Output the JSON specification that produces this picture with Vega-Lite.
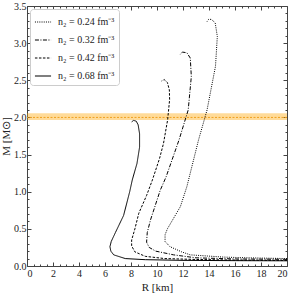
{
  "$schema": "https://vega.github.io/schema/vega-lite/v6.json",
  "width": 260,
  "height": 260,
  "autosize": {"type": "none"},
  "padding": {"left": 27, "top": 6, "right": 6, "bottom": 27},
  "background": "white",
  "config": {
    "view": {"stroke": null},
    "font": "Liberation Serif",
    "axis": {"grid": false, "labelFont": "Liberation Serif", "titleFont": "Liberation Serif", "labelColor": "#222", "titleColor": "#222", "domainColor": "#444", "tickColor": "#444", "labelFontSize": 10, "titleFontSize": 11, "titleFontWeight": "normal"}
  },
  "datasets": {
    "curves": [
      {"s": "0.24", "i": 1, "R": 20, "M": 0.10},
      {"s": "0.24", "i": 2, "R": 17, "M": 0.11},
      {"s": "0.24", "i": 3, "R": 15.1, "M": 0.12},
      {"s": "0.24", "i": 4, "R": 12.56, "M": 0.15},
      {"s": "0.24", "i": 5, "R": 11.9, "M": 0.19},
      {"s": "0.24", "i": 6, "R": 11.0, "M": 0.26},
      {"s": "0.24", "i": 7, "R": 10.62, "M": 0.33},
      {"s": "0.24", "i": 8, "R": 10.62, "M": 0.42},
      {"s": "0.24", "i": 9, "R": 10.8, "M": 0.5},
      {"s": "0.24", "i": 10, "R": 11.8, "M": 0.8},
      {"s": "0.24", "i": 11, "R": 12.3, "M": 1.07},
      {"s": "0.24", "i": 12, "R": 13.2, "M": 1.7},
      {"s": "0.24", "i": 13, "R": 13.85, "M": 2.1},
      {"s": "0.24", "i": 14, "R": 14.5, "M": 2.69},
      {"s": "0.24", "i": 15, "R": 14.64, "M": 3.09},
      {"s": "0.24", "i": 16, "R": 14.48, "M": 3.27},
      {"s": "0.24", "i": 17, "R": 14.2, "M": 3.32},
      {"s": "0.24", "i": 18, "R": 13.97, "M": 3.32},
      {"s": "0.24", "i": 19, "R": 13.85, "M": 3.29},
      {"s": "0.32", "i": 1, "R": 20, "M": 0.09},
      {"s": "0.32", "i": 2, "R": 16, "M": 0.095},
      {"s": "0.32", "i": 3, "R": 13, "M": 0.11},
      {"s": "0.32", "i": 4, "R": 11.28, "M": 0.15},
      {"s": "0.32", "i": 5, "R": 9.9, "M": 0.2},
      {"s": "0.32", "i": 6, "R": 9.4, "M": 0.25},
      {"s": "0.32", "i": 7, "R": 9.2, "M": 0.32},
      {"s": "0.32", "i": 8, "R": 9.25, "M": 0.45},
      {"s": "0.32", "i": 9, "R": 9.5, "M": 0.62},
      {"s": "0.32", "i": 10, "R": 10.25, "M": 1.02},
      {"s": "0.32", "i": 11, "R": 10.7, "M": 1.2},
      {"s": "0.32", "i": 12, "R": 11.7, "M": 1.7},
      {"s": "0.32", "i": 13, "R": 12.4, "M": 2.1},
      {"s": "0.32", "i": 14, "R": 12.64, "M": 2.55},
      {"s": "0.32", "i": 15, "R": 12.56, "M": 2.8},
      {"s": "0.32", "i": 16, "R": 12.3, "M": 2.87},
      {"s": "0.32", "i": 17, "R": 11.95, "M": 2.88},
      {"s": "0.32", "i": 18, "R": 11.8, "M": 2.85},
      {"s": "0.42", "i": 1, "R": 20, "M": 0.075},
      {"s": "0.42", "i": 2, "R": 16, "M": 0.08},
      {"s": "0.42", "i": 3, "R": 13, "M": 0.088},
      {"s": "0.42", "i": 4, "R": 10.6, "M": 0.10},
      {"s": "0.42", "i": 5, "R": 9.1, "M": 0.13},
      {"s": "0.42", "i": 6, "R": 8.3, "M": 0.19},
      {"s": "0.42", "i": 7, "R": 8.05, "M": 0.27},
      {"s": "0.42", "i": 8, "R": 8.05, "M": 0.35},
      {"s": "0.42", "i": 9, "R": 8.3, "M": 0.5},
      {"s": "0.42", "i": 10, "R": 8.6, "M": 0.71},
      {"s": "0.42", "i": 11, "R": 9.2, "M": 0.95},
      {"s": "0.42", "i": 12, "R": 9.65, "M": 1.16},
      {"s": "0.42", "i": 13, "R": 10.2, "M": 1.45},
      {"s": "0.42", "i": 14, "R": 10.5, "M": 1.65},
      {"s": "0.42", "i": 15, "R": 10.82, "M": 1.97},
      {"s": "0.42", "i": 16, "R": 10.97, "M": 2.24},
      {"s": "0.42", "i": 17, "R": 10.95, "M": 2.37},
      {"s": "0.42", "i": 18, "R": 10.8, "M": 2.47},
      {"s": "0.42", "i": 19, "R": 10.55, "M": 2.51},
      {"s": "0.42", "i": 20, "R": 10.35, "M": 2.49},
      {"s": "0.68", "i": 1, "R": 20, "M": 0.07},
      {"s": "0.68", "i": 2, "R": 16, "M": 0.072},
      {"s": "0.68", "i": 3, "R": 12, "M": 0.076},
      {"s": "0.68", "i": 4, "R": 9.1, "M": 0.085},
      {"s": "0.68", "i": 5, "R": 7.56, "M": 0.10},
      {"s": "0.68", "i": 6, "R": 6.67, "M": 0.15},
      {"s": "0.68", "i": 7, "R": 6.45, "M": 0.2},
      {"s": "0.68", "i": 8, "R": 6.38, "M": 0.26},
      {"s": "0.68", "i": 9, "R": 6.48, "M": 0.33},
      {"s": "0.68", "i": 10, "R": 6.8, "M": 0.45},
      {"s": "0.68", "i": 11, "R": 7.43, "M": 0.68},
      {"s": "0.68", "i": 12, "R": 7.9, "M": 1.0},
      {"s": "0.68", "i": 13, "R": 8.1, "M": 1.16},
      {"s": "0.68", "i": 14, "R": 8.46, "M": 1.38},
      {"s": "0.68", "i": 15, "R": 8.66, "M": 1.6},
      {"s": "0.68", "i": 16, "R": 8.66, "M": 1.78},
      {"s": "0.68", "i": 17, "R": 8.55, "M": 1.9},
      {"s": "0.68", "i": 18, "R": 8.4, "M": 1.95},
      {"s": "0.68", "i": 19, "R": 8.2, "M": 1.96},
      {"s": "0.68", "i": 20, "R": 8.05, "M": 1.94}
    ]
  },
  "layer": [
    {
      "data": {"values": [{"lo": 1.965, "hi": 2.055}]},
      "mark": {"type": "rect", "color": "#ffa500", "opacity": 0.4},
      "encoding": {
        "y": {"field": "lo", "type": "quantitative", "scale": {"domain": [0, 3.5], "nice": false, "zero": false}, "axis": null},
        "y2": {"field": "hi"}
      }
    },
    {
      "data": {"values": [{"m": 2.0}]},
      "mark": {"type": "rule", "color": "#f0a020", "strokeWidth": 1, "strokeDash": [2, 1.5]},
      "encoding": {
        "y": {"field": "m", "type": "quantitative", "axis": null}
      }
    },
    {
      "data": {"name": "curves"},
      "mark": {"type": "line", "color": "black", "strokeWidth": 1},
      "encoding": {
        "x": {"field": "R", "type": "quantitative", "scale": {"domain": [0, 20], "nice": false, "zero": false},
              "axis": {"orient": "bottom", "values": [0, 2, 4, 6, 8, 10, 12, 14, 16, 18, 20], "tickSize": -4, "labelPadding": 6, "title": "R  [km]", "titlePadding": 3, "format": "d"}},
        "y": {"field": "M", "type": "quantitative",
              "axis": {"orient": "left", "values": [0, 0.5, 1, 1.5, 2, 2.5, 3, 3.5], "tickSize": -4, "labelPadding": 5, "format": ".1f", "title": "M  [M⊙]", "titlePadding": 2}},
        "detail": {"field": "s"},
        "order": {"field": "i", "type": "quantitative"},
        "strokeDash": {"field": "s", "type": "nominal",
          "scale": {"domain": ["0.24", "0.32", "0.42", "0.68"], "range": [[1, 1.2], [4, 1.5, 1, 1.5], [2.5, 1.5], [1, 0]]},
          "legend": {"orient": "top-left", "offset": 3, "title": null, "labelExpr": "'n₂ = ' + datum.label + ' fm⁻³'",
            "symbolType": "stroke", "symbolSize": 260, "symbolStrokeColor": "black", "symbolStrokeWidth": 1.1,
            "labelFont": "Liberation Serif", "labelFontSize": 10, "labelColor": "#222", "labelOffset": 6,
            "padding": 4, "rowPadding": 4, "strokeColor": "#ccc", "fillColor": "white", "cornerRadius": 3}}
      }
    },
    {
      "data": {"name": "curves"},
      "mark": {"type": "point", "opacity": 0},
      "encoding": {
        "x": {"field": "R", "type": "quantitative", "axis": {"orient": "bottom", "values": [0.5,1,1.5,2.5,3,3.5,4.5,5,5.5,6.5,7,7.5,8.5,9,9.5,10.5,11,11.5,12.5,13,13.5,14.5,15,15.5,16.5,17,17.5,18.5,19,19.5], "tickSize": -2, "labels": false, "domain": false, "title": null}},
        "y": {"field": "M", "type": "quantitative", "axis": {"orient": "left", "values": [0.1,0.2,0.3,0.4,0.6,0.7,0.8,0.9,1.1,1.2,1.3,1.4,1.6,1.7,1.8,1.9,2.1,2.2,2.3,2.4,2.6,2.7,2.8,2.9,3.1,3.2,3.3,3.4], "tickSize": -2, "labels": false, "domain": false, "title": null}}
      }
    },
    {
      "data": {"name": "curves"},
      "mark": {"type": "point", "opacity": 0},
      "encoding": {
        "x": {"field": "R", "type": "quantitative", "axis": {"orient": "top", "values": [0, 2, 4, 6, 8, 10, 12, 14, 16, 18, 20], "tickSize": -4, "labels": false, "title": null}},
        "y": {"field": "M", "type": "quantitative", "axis": {"orient": "right", "values": [0, 0.5, 1, 1.5, 2, 2.5, 3, 3.5], "tickSize": -4, "labels": false, "title": null}}
      }
    },
    {
      "data": {"name": "curves"},
      "mark": {"type": "point", "opacity": 0},
      "encoding": {
        "x": {"field": "R", "type": "quantitative", "axis": {"orient": "top", "values": [0.5,1,1.5,2.5,3,3.5,4.5,5,5.5,6.5,7,7.5,8.5,9,9.5,10.5,11,11.5,12.5,13,13.5,14.5,15,15.5,16.5,17,17.5,18.5,19,19.5], "tickSize": -2, "labels": false, "domain": false, "title": null}},
        "y": {"field": "M", "type": "quantitative", "axis": {"orient": "right", "values": [0.1,0.2,0.3,0.4,0.6,0.7,0.8,0.9,1.1,1.2,1.3,1.4,1.6,1.7,1.8,1.9,2.1,2.2,2.3,2.4,2.6,2.7,2.8,2.9,3.1,3.2,3.3,3.4], "tickSize": -2, "labels": false, "domain": false, "title": null}}
      }
    }
  ],
  "resolve": {"axis": {"x": "independent", "y": "independent"}}
}
